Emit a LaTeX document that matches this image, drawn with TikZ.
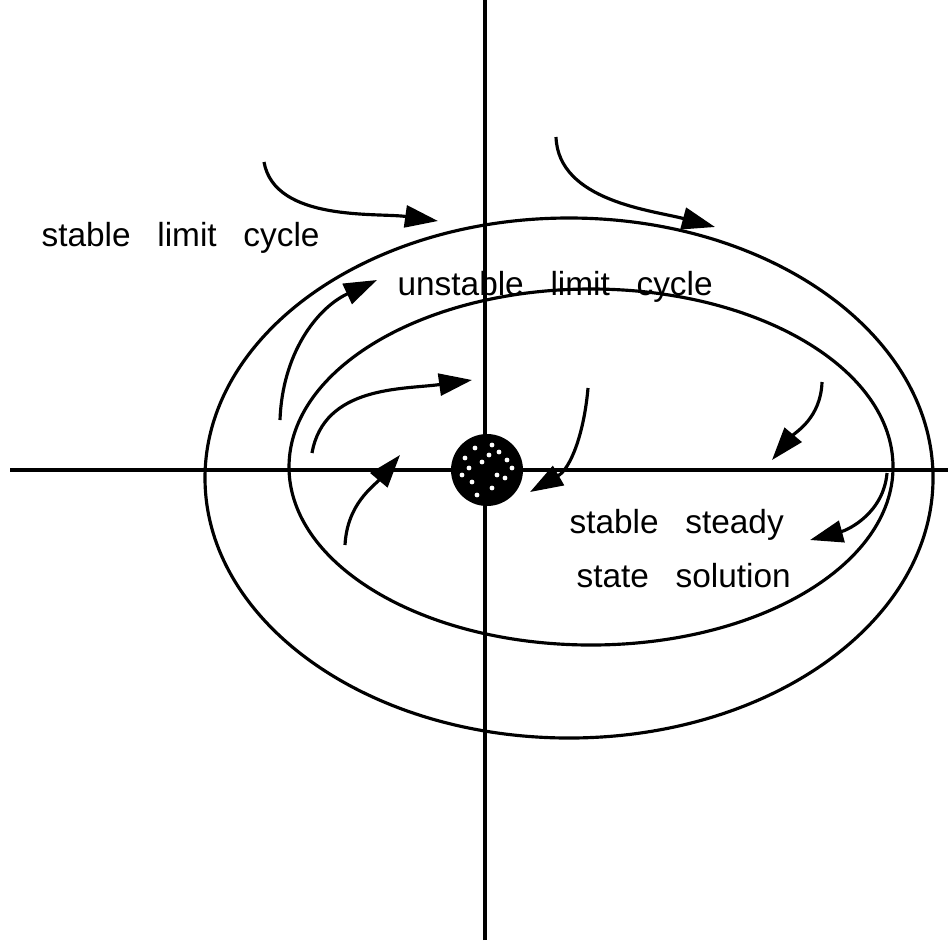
\documentclass[tikz,border=0pt]{standalone}
\usepackage{fontspec}
\setmainfont{Liberation Sans}
\usetikzlibrary{arrows.meta,calc}
\newcommand\lblfont{\fontsize{9.5}{11}\selectfont\spaceskip=0.8em\relax}

\begin{document}
\begin{tikzpicture}[
        line width=0.9pt,
        flow/.style={-{Triangle[length=3.3mm,width=2.2mm]}},
        lbl/.style={font=\lblfont, inner sep=0pt, anchor=base west}
    ]
    \useasboundingbox (0,0) rectangle (9.48,9.40);

    % axes
    \coordinate (yb) at (4.85,0);
    \coordinate (yt) at (4.85,9.40);
    \coordinate (xl) at (0.10,4.70);
    \coordinate (xr) at (9.48,4.70);
    \draw (yb) -- (yt);
    \draw (xl) -- (xr);

    % limit cycles
    \coordinate (outer) at (5.69,4.62);
    \coordinate (inner) at (5.91,4.73);
    \draw (outer) ellipse [x radius=3.64, y radius=2.60];
    \draw (inner) ellipse [x radius=3.02, y radius=1.78];

    % steady state
    \coordinate (ss) at (4.87,4.70);
    \fill (ss) circle (0.36);
    \foreach \dx/\dy in {-0.22/0.12, -0.12/0.22, 0.05/0.25, 0.12/0.18, 0.20/0.10,
                         -0.05/0.08, 0.02/0.15, -0.25/-0.05, -0.15/-0.12, 0.10/-0.05,
                         0.18/-0.08, 0.25/0.02, -0.18/0.02, -0.10/-0.25, 0.05/-0.18}
        \fill[white] ($(ss)+(\dx,\dy)$) circle (0.024);

    % trajectories
    \coordinate (a1s) at (2.64,7.78); \coordinate (a1e) at (4.38,7.19);
    \coordinate (a2s) at (5.56,8.03); \coordinate (a2e) at (7.15,7.13);
    \coordinate (a3s) at (2.80,5.20); \coordinate (a3e) at (3.77,6.60);
    \coordinate (a4s) at (3.12,4.87); \coordinate (a4e) at (4.72,5.60);
    \coordinate (a5s) at (3.45,3.95); \coordinate (a5e) at (4.00,4.85);
    \coordinate (a6s) at (5.88,5.52); \coordinate (a6e) at (5.30,4.48);
    \coordinate (a7s) at (8.22,5.58); \coordinate (a7e) at (7.72,4.80);
    \coordinate (a8s) at (8.87,4.67); \coordinate (a8e) at (8.10,4.00);

    \draw[flow] (a1s) to[out=-80, in=172, looseness=0.85] (a1e);
    \draw[flow] (a2s) to[out=-88, in=165, looseness=0.9] (a2e);
    \draw[flow] (a3s) to[out=88, in=-155] (a3e);
    \draw[flow] (a4s) to[out=80, in=-172] (a4e);
    \draw[flow] (a5s) to[out=87, in=-130] (a5e);
    \draw[flow] (a6s) to[out=-95, in=30] (a6e);
    \draw[flow] (a7s) to[out=-92, in=50] (a7e);
    \draw[flow] (a8s) to[out=-95, in=15] (a8e);

    % labels
    \node[lbl] (stab) at (0.40,6.94) {stable limit cycle};
    \node[lbl] (unst) at (3.96,6.45) {unstable limit cycle};
    \node[lbl] (ssa) at (5.68,4.07) {stable steady};
    \node[lbl] (ssb) at (5.75,3.53) {state solution};
\end{tikzpicture}
\end{document}
